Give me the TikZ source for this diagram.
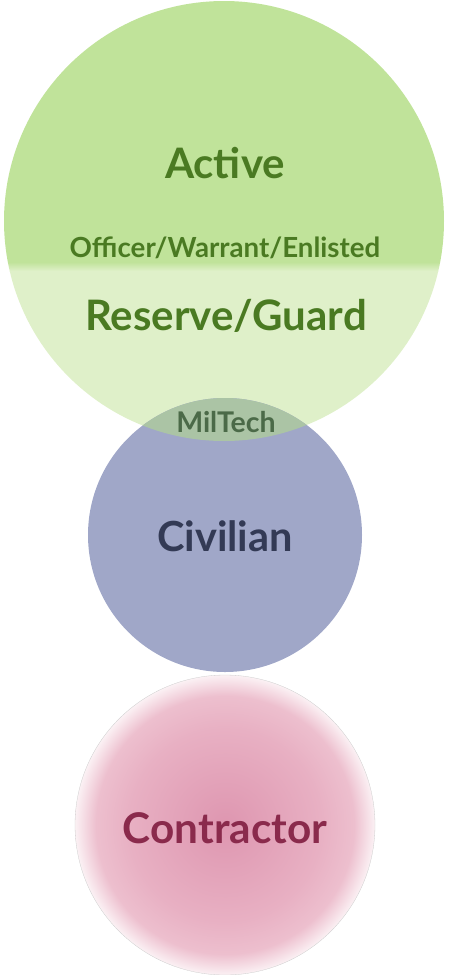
\documentclass[tikz,border=0pt]{standalone}
\usepackage{fontspec}
\setmainfont{Lato}
\definecolor{greenTop}{HTML}{C0E39A}
\definecolor{greenLow}{HTML}{DFF0C9}
\definecolor{blueFill}{HTML}{A0A7C8}
\definecolor{overlapFill}{HTML}{ABC4A5}
\definecolor{greenText}{HTML}{4A7A22}
\definecolor{milText}{HTML}{4B6A48}
\definecolor{civText}{HTML}{333A55}
\definecolor{conText}{HTML}{8A2A4C}
\definecolor{pinkC}{HTML}{DE96B0}
\definecolor{pinkM}{HTML}{E8B0C3}
\definecolor{pinkE}{HTML}{EDBFCE}
\definecolor{pinkW}{HTML}{FBF1F4}
\pgfdeclareradialshading{pinkglow}{\pgfpoint{0bp}{0bp}}{color(0bp)=(pinkC); color(16bp)=(pinkM); color(21.5bp)=(pinkE); color(25bp)=(pinkW); color(50bp)=(pinkW)}
\tikzset{
  lbl/.style={anchor=base, inner sep=0pt, font=\bfseries},
}
\begin{document}
\begin{tikzpicture}[x=1pt,y=-1pt]
\useasboundingbox (0,0) rectangle (448,975);
% green circle
\coordinate (gc) at (224,221);
\begin{scope}
  \clip (gc) circle (220);
  \fill[greenTop] (0,0) rectangle (448,262);
  \shade[top color=greenTop, bottom color=greenLow] (0,262) rectangle (448,271);
  \fill[greenLow] (0,271) rectangle (448,445);
\end{scope}
% blue circle
\coordinate (bc) at (225,535);
\fill[blueFill] (bc) circle (137);
% overlap
\begin{scope}
  \clip (gc) circle (220);
  \fill[overlapFill] (bc) circle (137);
\end{scope}
% pink circle
\coordinate (pc) at (225,825);
\shade[shading=pinkglow] (pc) circle (150);
\draw[black!20, line width=0.3pt] (pc) circle (150);
% labels
\node[lbl, font=\bfseries\fontsize{42}{48}\selectfont, text=greenText] (active) at (225,178) {Active};
\node[lbl, font=\bfseries\fontsize{27.7}{32}\selectfont, text=greenText] (ranks) at (225,257) {Officer/Warrant/Enlisted};
\node[lbl, font=\bfseries\fontsize{42}{48}\selectfont, text=greenText] (reserve) at (226,330) {Reserve/Guard};
\node[lbl, font=\bfseries\fontsize{28.5}{32}\selectfont, text=milText] (miltech) at (226,432) {MilTech};
\node[lbl, font=\bfseries\fontsize{41.5}{46}\selectfont, text=civText] (civ) at (225,551) {Civilian};
\node[lbl, font=\bfseries\fontsize{42.3}{48}\selectfont, text=conText] (con) at (225,843) {Contractor};
\end{tikzpicture}
\end{document}
